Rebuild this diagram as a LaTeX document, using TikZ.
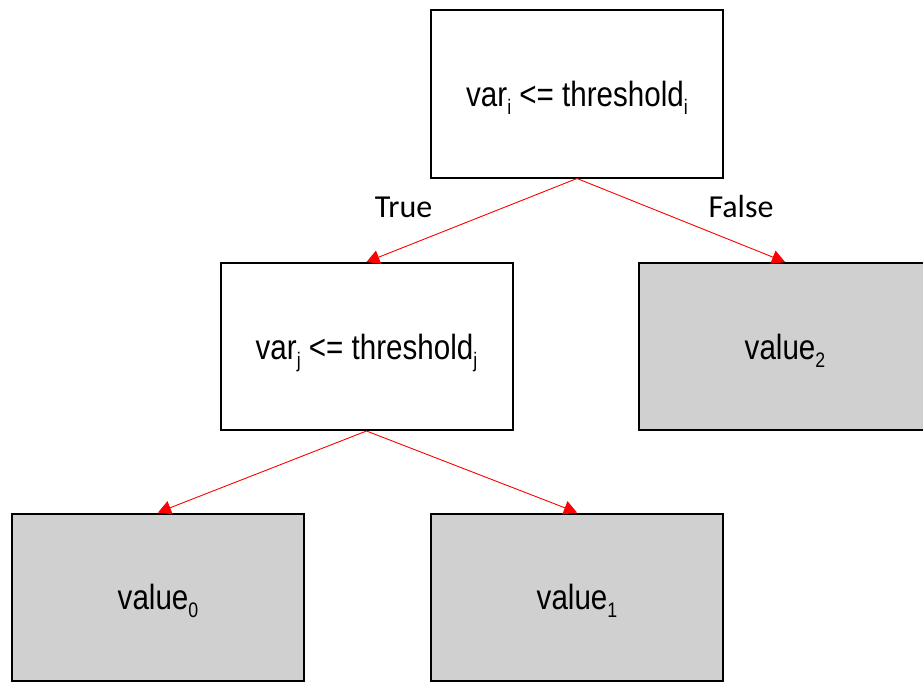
\documentclass[tikz,border=0pt]{standalone}
\usepackage{fontspec}
\setmainfont{Liberation Sans}[FakeStretch=0.845]
\newfontfamily\lblfont{Carlito}
\usetikzlibrary{arrows.meta}
\newcommand{\mysub}[1]{\smash{\raisebox{-8pt}{\fontsize{21}{21}\selectfont #1}}}
\definecolor{leafgray}{HTML}{D0D0D0}
\tikzset{
  decbox/.style={draw=black, line width=2pt, minimum width=292pt, minimum height=167pt, inner sep=0pt, font=\fontsize{35}{35}\selectfont},
  leafbox/.style={decbox, fill=leafgray},
  edge/.style={draw=red, line width=0.9pt, -{Triangle[length=13pt,width=14pt]}},
  lbl/.style={font=\lblfont\fontsize{32}{32}\selectfont, inner sep=0pt, anchor=base}
}
\begin{document}
\begin{tikzpicture}[x=1pt,y=1pt]
\clip (0,0) rectangle (923,-682);
\fill[white] (0,0) rectangle (923,-682);
\node[decbox] (top) at (577,-94) {var\mysub{i} <= threshold\mysub{i}};
\node[decbox] (mid) at (366.5,-346.5) {var\mysub{j} <= threshold\mysub{j}};
\node[leafbox] (v2) at (785,-346.5) {value\mysub{2}};
\node[leafbox] (v0) at (158,-597) {value\mysub{0}};
\node[leafbox] (v1) at (577,-597) {value\mysub{1}};
\draw[edge] (top.south) -- (mid.north);
\draw[edge] (top.south) -- (v2.north);
\draw[edge] (mid.south) -- (v0.north);
\draw[edge] (mid.south) -- (v1.north);
\node[lbl] (t) at (403.5,-217) {True};
\node[lbl] (f) at (741,-217) {False};
\end{tikzpicture}
\end{document}
